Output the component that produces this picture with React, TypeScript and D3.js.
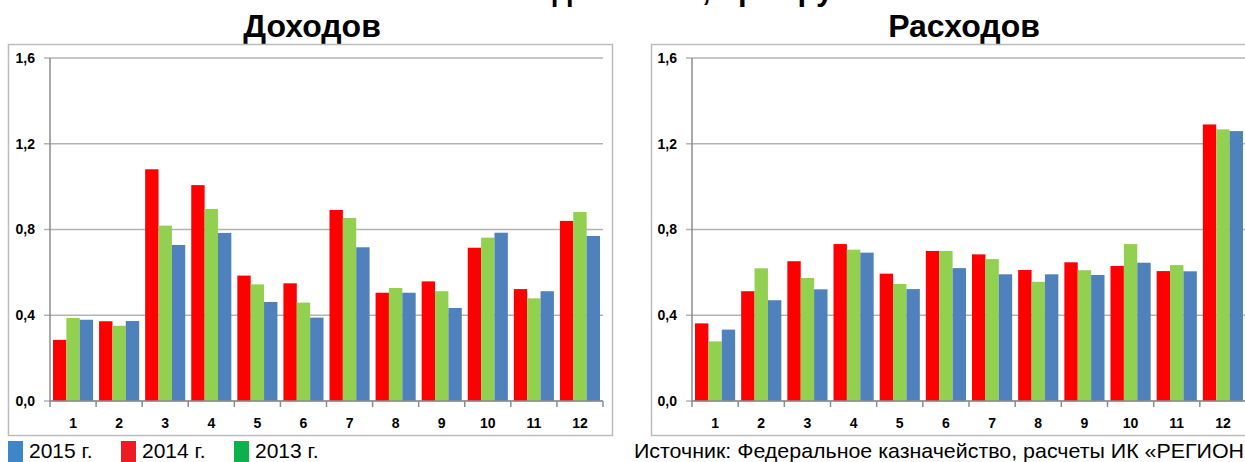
import React from "react";
import * as d3 from "d3";

const months = ["1", "2", "3", "4", "5", "6", "7", "8", "9", "10", "11", "12"];
const seriesKeys = ["2014 г.", "2013 г.", "2015 г."];
const seriesColors = ["#ff0000", "#92d050", "#4f81bd"];

const income2014 = [0.285, 0.372, 1.081, 1.007, 0.585, 0.549, 0.891, 0.505, 0.558, 0.715, 0.522, 0.84];
const income2013 = [0.387, 0.351, 0.818, 0.896, 0.544, 0.459, 0.854, 0.527, 0.512, 0.762, 0.479, 0.882];
const income2015 = [0.379, 0.373, 0.728, 0.784, 0.462, 0.389, 0.717, 0.505, 0.434, 0.785, 0.512, 0.77];

const spend2014 = [0.362, 0.512, 0.652, 0.732, 0.594, 0.7, 0.684, 0.611, 0.647, 0.63, 0.606, 1.29];
const spend2013 = [0.278, 0.619, 0.574, 0.706, 0.546, 0.7, 0.662, 0.556, 0.61, 0.732, 0.634, 1.267];
const spend2015 = [0.333, 0.47, 0.521, 0.692, 0.522, 0.62, 0.591, 0.591, 0.588, 0.645, 0.605, 1.259];

const yTicks = [0, 0.4, 0.8, 1.2, 1.6];

const legendItems = [
  { label: "2015 г.", color: "#3f86c8" },
  { label: "2014 г.", color: "#ed1c24" },
  { label: "2013 г.", color: "#0db14b" },
];

const fmt = (v: number) => v.toFixed(1).replace(".", ",");

type PanelProps = {
  title: string;
  titleX: number;
  boxX: number;
  boxW: number;
  plotX0: number;
  plotX1: number;
  series: number[][];
};

const Panel = ({ title, titleX, boxX, boxW, plotX0, plotX1, series }: PanelProps) => {
  const y = d3.scaleLinear().domain([0, 1.6]).range([401, 58]);
  const x = d3.scaleBand<string>().domain(months).range([plotX0, plotX1]).paddingInner(0.13).paddingOuter(0.065);
  const xs = d3.scaleBand<string>().domain(seriesKeys).range([0, x.bandwidth()]).padding(0);
  const step = x.step();
  const boundaries = d3.range(months.length + 1).map((i) => plotX0 + i * step);
  return (
    <g>
      <text
        x={titleX}
        y={37}
        textAnchor="middle"
        fontFamily="Liberation Sans, Arial, sans-serif"
        fontWeight="bold"
        fontSize={32}
        fill="#000"
      >
        {title}
      </text>
      <rect x={boxX + 0.5} y={44.5} width={boxW} height={391} fill="#fff" stroke="#bcbcbc" strokeWidth={1.5} />
      {yTicks.map((t) => (
        <g key={t}>
          <line x1={plotX0 - 6} x2={plotX1} y1={y(t)} y2={y(t)} stroke="#b3b3b3" strokeWidth={1.5} />
          <text
            x={plotX0 - 15}
            y={y(t)}
            dy="0.35em"
            textAnchor="end"
            fontFamily="Liberation Sans, Arial, sans-serif"
            fontWeight="bold"
            fontSize={14}
            fill="#000"
          >
            {fmt(t)}
          </text>
        </g>
      ))}
      {series.map((vals, si) =>
        vals.map((v, i) => (
          <rect
            key={si + "-" + i}
            x={(x(months[i]) as number) + (xs(seriesKeys[si]) as number)}
            y={y(v)}
            width={xs.bandwidth()}
            height={y(0) - y(v)}
            fill={seriesColors[si]}
          />
        ))
      )}
      <line x1={plotX0} x2={plotX0} y1={58} y2={401} stroke="#8c8c8c" strokeWidth={1.5} />
      <line x1={plotX0} x2={plotX1} y1={401} y2={401} stroke="#8c8c8c" strokeWidth={1.5} />
      {boundaries.map((bx, i) => (
        <line key={i} x1={bx} x2={bx} y1={401} y2={407} stroke="#8c8c8c" strokeWidth={1.5} />
      ))}
      {months.map((m) => (
        <text
          key={m}
          x={(x(m) as number) + x.bandwidth() / 2}
          y={428}
          textAnchor="middle"
          fontFamily="Liberation Sans, Arial, sans-serif"
          fontWeight="bold"
          fontSize={14}
          fill="#000"
        >
          {m}
        </text>
      ))}
    </g>
  );
};

export default function App() {
  return (
    <svg
      width={1245}
      height={462}
      style={{ position: "absolute", left: 0, top: 0, display: "block", background: "#fff" }}
    >
      <rect x={0} y={0} width={1245} height={462} fill="#fff" />
      <text
        x={622}
        y={0}
        textAnchor="middle"
        fontFamily="Liberation Sans, Arial, sans-serif"
        fontWeight="bold"
        fontSize={31}
        fill="#000"
      >
        Помесячная динамика, при группе
      </text>
      <Panel
        title="Доходов"
        titleX={312}
        boxX={8}
        boxW={604}
        plotX0={50}
        plotX1={603}
        series={[income2014, income2013, income2015]}
      />
      <Panel
        title="Расходов"
        titleX={964}
        boxX={651}
        boxW={626}
        plotX0={692}
        plotX1={1246}
        series={[spend2014, spend2013, spend2015]}
      />
      {legendItems.map((it, i) => {
        const starts = [8, 121, 234];
        return (
          <g key={it.label}>
            <rect x={starts[i]} y={441} width={15} height={21} fill={it.color} />
            <text
              x={starts[i] + 21}
              y={458}
              fontFamily="Liberation Sans, Arial, sans-serif"
              fontSize={21}
              fill="#000"
            >
              {it.label}
            </text>
          </g>
        );
      })}
      <text
        x={634}
        y={458}
        fontFamily="Liberation Sans, Arial, sans-serif"
        fontSize={21}
        textLength={610}
        lengthAdjust="spacingAndGlyphs"
        fill="#000"
      >
        Источник: Федеральное казначейство, расчеты ИК «РЕГИОН
      </text>
    </svg>
  );
}
